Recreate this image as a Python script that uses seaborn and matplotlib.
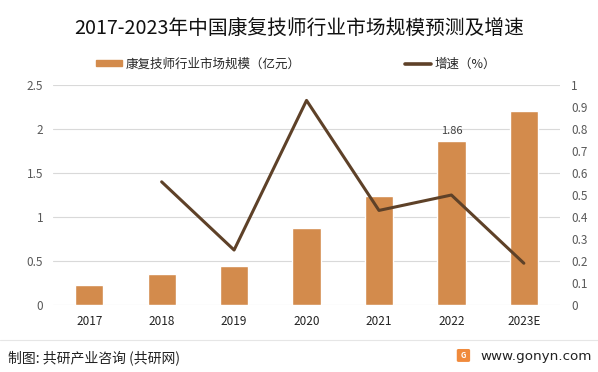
import numpy as np
import pandas as pd
import matplotlib
matplotlib.use("Agg")
import matplotlib.pyplot as plt
import seaborn as sns
from matplotlib.patches import FancyBboxPatch
from matplotlib.lines import Line2D
from matplotlib.patches import Patch

# data
years = ["2017", "2018", "2019", "2020", "2021", "2022", "2023E"]
market_size = [0.23, 0.35, 0.44, 0.87, 1.24, 1.86, 2.21]
growth_years = ["2018", "2019", "2020", "2021", "2022", "2023E"]
growth_rate = [0.56, 0.25, 0.93, 0.43, 0.50, 0.19]

bar_color = "#D38B4C"
line_color = "#5E4128"
tick_color = "#595959"

sns.set_style("white")
plt.rcParams['font.family'] = ['Noto Sans CJK SC', 'DejaVu Sans']

df_bar = pd.DataFrame({"year": years, "size": market_size})
df_line = pd.DataFrame({"pos": [years.index(y) for y in growth_years], "rate": growth_rate})

fig = plt.figure(figsize=(5.98, 3.72), dpi=100)
ax = fig.add_axes([0.0886, 0.180, 0.848, 0.5915])

sns.barplot(data=df_bar, x="year", y="size", color=bar_color, width=0.39,
            saturation=1, ax=ax, zorder=2)
ax.set_ylim(0, 2.5)
ax.set_yticks(np.arange(0, 2.51, 0.5))
ax.set_yticklabels(["0", "0.5", "1", "1.5", "2", "2.5"])
ax.set_xlim(-0.5, len(years) - 0.5)
ax.grid(axis="y", color="#D9D9D9", linewidth=0.8, zorder=0)
ax.set_xlabel("")
ax.set_ylabel("")
for s in ax.spines.values():
    s.set_visible(False)
ax.tick_params(axis="y", length=0, labelsize=8.5, colors=tick_color, pad=7)
ax.tick_params(axis="x", length=0, labelsize=8.5, colors="#222222", pad=7)

# label on 2022 bar
i22 = years.index("2022")
ax.text(i22, market_size[i22] + 0.06, f"{market_size[i22]:.2f}", ha="center",
        va="bottom", fontsize=8, color="#404040")

ax2 = ax.twinx()
sns.lineplot(data=df_line, x="pos", y="rate", color=line_color, linewidth=2.2,
             ax=ax2, zorder=3)
ax2.set_ylim(0, 1)
ax2.set_yticks(np.arange(0, 1.01, 0.1))
ax2.set_yticklabels(["0", "0.1", "0.2", "0.3", "0.4", "0.5", "0.6", "0.7", "0.8", "0.9", "1"])
ax2.set_ylabel("")
ax2.set_xlabel("")
for s in ax2.spines.values():
    s.set_visible(False)
ax2.tick_params(axis="y", length=0, labelsize=8.5, colors=tick_color, pad=8)
ax.set_xlim(-0.5, len(years) - 0.5)

# title
fig.text(0.500, 0.921, "2017-2023年中国康复技师行业市场规模预测及增速", ha="center",
         va="center", fontsize=14.2, color="#111111")

# legend
handles = [Patch(color=bar_color), Line2D([0], [0], color=line_color, linewidth=2.6)]
fig.legend(handles, ["康复技师行业市场规模（亿元）", "增速（%）"], loc="center",
           bbox_to_anchor=(0.495, 0.828), ncol=2, frameon=False, fontsize=9,
           handlelength=2.1, handleheight=0.45, columnspacing=8.3, handletextpad=0.3)

# footer
fig.add_artist(Line2D([0, 1], [0.086, 0.086], color="#E6E6E6", linewidth=0.8,
                      transform=fig.transFigure))
fig.text(0.013, 0.039, "制图: 共研产业咨询 (共研网)", ha="left", va="center",
         fontsize=10, color="#222222")
fig.add_artist(FancyBboxPatch((0.767, 0.031), 0.016, 0.027,
                              boxstyle="round,pad=0.002", color="#F08A3C",
                              transform=fig.transFigure))
fig.text(0.775, 0.044, "G", ha="center", va="center", fontsize=5.5,
         color="white", fontweight="bold")
fig.text(0.99, 0.042, "www.gonyn.com", ha="right", va="center", fontsize=9.7,
         color="#222222", family=["DejaVu Sans"])

fig.savefig("out.png", dpi=100)
